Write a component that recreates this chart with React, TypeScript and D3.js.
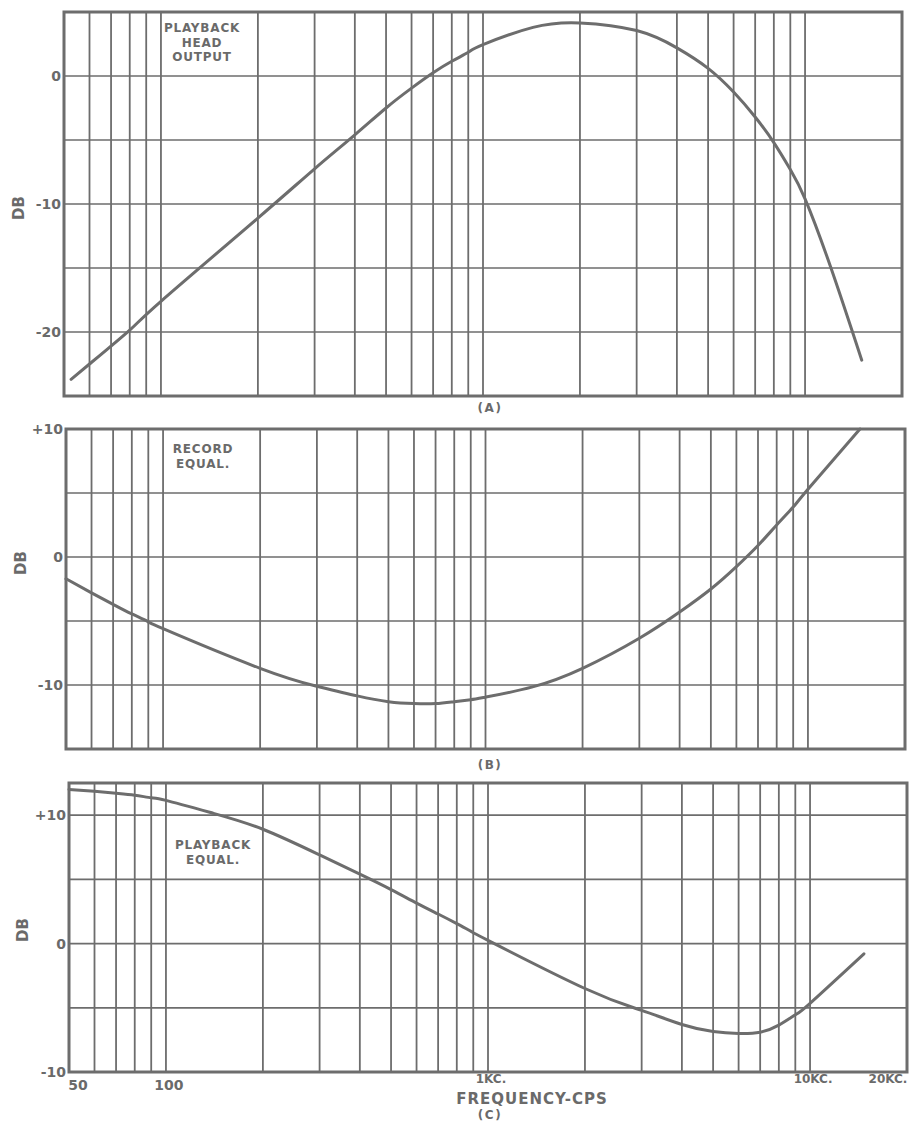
import React from "react";
import * as d3 from "d3";

// ---------- DATA ----------
const gridFreqs = [60, 70, 80, 90, 100, 200, 300, 400, 500, 600, 700, 800, 900, 1000,
  2000, 3000, 4000, 5000, 6000, 7000, 8000, 9000, 10000];

// Panel A: playback head output
const headFreq = [52.6, 60, 80, 100, 200, 300, 400, 500, 600, 700, 800, 900, 1000, 1430, 2000,
  3000, 4000, 5000, 6000, 7000, 8000, 9000, 10000, 12000, 15000];
const headDb = [-23.7, -22.5, -19.85, -17.6, -11.1, -7.25, -4.6, -2.5, -0.95, 0.25, 1.15, 1.85, 2.45, 3.8, 4.15,
  3.55, 2.2, 0.6, -1.25, -3.2, -5.2, -7.3, -9.6, -14.9, -22.2];

// Panel B: record equalization
const recFreq = [50, 60, 70, 80, 90, 100, 200, 300, 400, 500, 600, 700, 800, 900, 1000, 1400, 2000,
  3000, 4000, 5000, 6000, 7000, 8000, 9000, 10000, 14500];
const recDb = [-1.7, -2.8, -3.7, -4.45, -5.05, -5.6, -8.7, -10.1, -10.85, -11.3, -11.45, -11.45, -11.3, -11.15, -10.95, -10.15, -8.7,
  -6.35, -4.3, -2.5, -0.75, 0.9, 2.5, 3.9, 5.3, 10.0];

// Panel C: playback equalization
const pbFreq = [50, 60, 70, 80, 90, 100, 140, 200, 300, 400, 500, 600, 700, 800, 900, 1000, 2000,
  3000, 4000, 5000, 6000, 7000, 8000, 9000, 10000, 14700];
const pbDb = [12.0, 11.85, 11.7, 11.55, 11.35, 11.15, 10.15, 8.9, 6.9, 5.4, 4.2, 3.15, 2.3, 1.55, 0.85, 0.25, -3.5,
  -5.2, -6.3, -6.85, -7.0, -6.9, -6.35, -5.55, -4.65, -0.8];

const yTicksA = [0, -10, -20];
const yTicksB = [10, 0, -10];
const yTicksC = [10, 0, -10];
const xLabels = [
  { f: 50, text: "50" },
  { f: 100, text: "100" },
  { f: 1000, text: "1KC." },
  { f: 10000, text: "10KC." },
  { f: 20000, text: "20KC." },
];

// ---------- STYLE ----------
const INK = "#6d6d6d";
const TXT = "#6a6a6a";
const FONT = "'DejaVu Sans', 'Liberation Sans', sans-serif";

type PanelProps = {
  freq: number[];
  db: number[];
  xRange: [number, number];
  yDomain: [number, number];
  yRange: [number, number];
  yTicks: number[];
  dbLabelPos: [number, number];
  caption: string;
  captionY: number;
  note: string[];
  notePos: [number, number];
};

function fmt(v: number, plus: boolean) {
  if (v > 0 && plus) return "+" + v;
  return String(v);
}

function Panel(p: PanelProps) {
  const x = d3.scaleLog().domain([50, 20000]).range(p.xRange);
  const y = d3.scaleLinear().domain(p.yDomain).range(p.yRange);
  const hLines = d3.range(Math.ceil(p.yDomain[0] / 5) * 5, p.yDomain[1] + 0.01, 5);
  const pts: [number, number][] = p.freq.map((f, i) => [x(f), y(p.db[i])]);
  const line = d3.line().curve(d3.curveNatural)(pts) || "";
  const [x0, x1] = p.xRange;
  const [yb, yt] = p.yRange;
  const plus = p.yDomain[1] > 7;
  return (
    <g>
      {hLines.map((v) => (
        <line key={"h" + v} x1={x0} x2={x1} y1={y(v)} y2={y(v)} stroke={INK} strokeWidth={1.7} />
      ))}
      {gridFreqs.map((f) => (
        <line key={"v" + f} x1={x(f)} x2={x(f)} y1={yt} y2={yb} stroke={INK} strokeWidth={1.8} />
      ))}
      <rect x={x0} y={yt} width={x1 - x0} height={yb - yt} fill="none" stroke={INK} strokeWidth={3} />
      <path d={line} fill="none" stroke={INK} strokeWidth={3} strokeLinecap="round" />
      {p.yTicks.map((v) => (
        <text key={"t" + v} x={x0 - 3} y={y(v)} dy="0.36em" textAnchor="end" fontSize={14}
          fontWeight="bold" fill={TXT} fontFamily={FONT}>{fmt(v, plus)}</text>
      ))}
      <text transform={`translate(${p.dbLabelPos[0]},${p.dbLabelPos[1]}) rotate(-90)`} textAnchor="middle"
        dy="0.36em" fontSize={15} fontWeight="bold" fill={TXT} fontFamily={FONT}>DB</text>
      <text x={490} y={p.captionY} dy="0.36em" textAnchor="middle" fontSize={12} fontWeight="bold"
        letterSpacing={1.5} fill={TXT} fontFamily={FONT}>{p.caption}</text>
      {p.note.map((s, i) => (
        <text key={"n" + i} x={p.notePos[0]} y={p.notePos[1] + i * 14.5} dy="0.36em" textAnchor="middle"
          fontSize={12} fontWeight="bold" letterSpacing={0.8} fill={TXT} fontFamily={FONT}>{s}</text>
      ))}
    </g>
  );
}

export default function App() {
  const xC = d3.scaleLog().domain([50, 20000]).range([69, 907]);
  return (
    <svg width={910} height={1124} style={{ position: "absolute", left: 0, top: 0, display: "block", background: "#fff" }}>
      <rect x={0} y={0} width={910} height={1124} fill="#fff" />
      <Panel freq={headFreq} db={headDb} xRange={[64, 902]} yDomain={[-25, 5]} yRange={[396, 12]}
        yTicks={yTicksA} dbLabelPos={[19, 208]} caption="(A)" captionY={408}
        note={["PLAYBACK", "HEAD", "OUTPUT"]} notePos={[202, 28]} />
      <Panel freq={recFreq} db={recDb} xRange={[66, 905]} yDomain={[-15, 10]} yRange={[749, 429]}
        yTicks={yTicksB} dbLabelPos={[21, 563]} caption="(B)" captionY={765}
        note={["RECORD", "EQUAL."]} notePos={[203, 449]} />
      <Panel freq={pbFreq} db={pbDb} xRange={[69, 907]} yDomain={[-10, 12.5]} yRange={[1072, 783]}
        yTicks={yTicksC} dbLabelPos={[23, 930]} caption="(C)" captionY={1115}
        note={["PLAYBACK", "EQUAL."]} notePos={[213, 845]} />
      {xLabels.map((l) => {
        const px = l.f === 50 ? xC(l.f) + 9 : l.f === 20000 ? xC(l.f) - 19 : xC(l.f) + 3;
        const py = l.f <= 100 ? 1085 : 1079;
        return (
          <text key={l.text} x={px} y={py} dy="0.36em" textAnchor="middle" fontSize={l.f <= 100 ? 14 : 12}
            fontWeight="bold" fill={TXT} fontFamily={FONT}>{l.text}</text>
        );
      })}
      <text x={532} y={1099} dy="0.36em" textAnchor="middle" fontSize={15} fontWeight="bold" letterSpacing={1}
        fill={TXT} fontFamily={FONT}>FREQUENCY-CPS</text>
    </svg>
  );
}
